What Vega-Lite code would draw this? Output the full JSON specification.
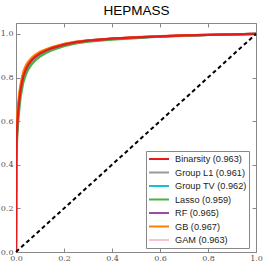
{
  "$schema": "https://vega.github.io/schema/vega-lite/v6.json",
  "width": 240,
  "height": 229,
  "autosize": {"type": "none"},
  "padding": {"left": 16, "top": 23, "right": 10, "bottom": 15},
  "background": "white",
  "config": {
    "view": {"stroke": "#888", "strokeWidth": 1},
    "axis": {"grid": false, "domain": false, "labelFont": "DejaVu Serif", "labelFontSize": 8, "labelColor": "#555", "tickColor": "#888", "tickSize": -4, "labelFlush": false, "labelOverlap": false, "labelBound": false, "minExtent": 0}
  },
  "datasets": {
    "roc": [
      {"fpr": 0, "Binarsity": 0, "Group L1": 0, "Group TV": 0, "Lasso": 0, "RF": 0, "GB": 0, "GAM": 0},
      {"fpr": 0.001, "Binarsity": 0.42, "Group L1": 0.40, "Group TV": 0.41, "Lasso": 0.36, "RF": 0.46, "GB": 0.48, "GAM": 0.42},
      {"fpr": 0.003, "Binarsity": 0.52, "Group L1": 0.50, "Group TV": 0.51, "Lasso": 0.47, "RF": 0.55, "GB": 0.58, "GAM": 0.52},
      {"fpr": 0.006, "Binarsity": 0.60, "Group L1": 0.58, "Group TV": 0.59, "Lasso": 0.55, "RF": 0.62, "GB": 0.65, "GAM": 0.60},
      {"fpr": 0.01, "Binarsity": 0.655, "Group L1": 0.64, "Group TV": 0.648, "Lasso": 0.61, "RF": 0.67, "GB": 0.69, "GAM": 0.655},
      {"fpr": 0.015, "Binarsity": 0.71, "Group L1": 0.695, "Group TV": 0.703, "Lasso": 0.67, "RF": 0.725, "GB": 0.74, "GAM": 0.71},
      {"fpr": 0.02, "Binarsity": 0.75, "Group L1": 0.737, "Group TV": 0.744, "Lasso": 0.715, "RF": 0.763, "GB": 0.775, "GAM": 0.75},
      {"fpr": 0.03, "Binarsity": 0.805, "Group L1": 0.795, "Group TV": 0.80, "Lasso": 0.775, "RF": 0.815, "GB": 0.825, "GAM": 0.805},
      {"fpr": 0.04, "Binarsity": 0.835, "Group L1": 0.826, "Group TV": 0.831, "Lasso": 0.81, "RF": 0.845, "GB": 0.853, "GAM": 0.835},
      {"fpr": 0.05, "Binarsity": 0.857, "Group L1": 0.849, "Group TV": 0.853, "Lasso": 0.835, "RF": 0.865, "GB": 0.872, "GAM": 0.857},
      {"fpr": 0.065, "Binarsity": 0.879, "Group L1": 0.872, "Group TV": 0.876, "Lasso": 0.86, "RF": 0.885, "GB": 0.891, "GAM": 0.879},
      {"fpr": 0.08, "Binarsity": 0.895, "Group L1": 0.889, "Group TV": 0.892, "Lasso": 0.878, "RF": 0.90, "GB": 0.905, "GAM": 0.895},
      {"fpr": 0.1, "Binarsity": 0.91, "Group L1": 0.905, "Group TV": 0.908, "Lasso": 0.896, "RF": 0.914, "GB": 0.918, "GAM": 0.91},
      {"fpr": 0.125, "Binarsity": 0.924, "Group L1": 0.92, "Group TV": 0.922, "Lasso": 0.912, "RF": 0.927, "GB": 0.93, "GAM": 0.924},
      {"fpr": 0.15, "Binarsity": 0.935, "Group L1": 0.931, "Group TV": 0.933, "Lasso": 0.925, "RF": 0.937, "GB": 0.94, "GAM": 0.935},
      {"fpr": 0.2, "Binarsity": 0.951, "Group L1": 0.948, "Group TV": 0.95, "Lasso": 0.944, "RF": 0.953, "GB": 0.955, "GAM": 0.951},
      {"fpr": 0.25, "Binarsity": 0.962, "Group L1": 0.96, "Group TV": 0.961, "Lasso": 0.956, "RF": 0.963, "GB": 0.965, "GAM": 0.962},
      {"fpr": 0.3, "Binarsity": 0.969, "Group L1": 0.967, "Group TV": 0.968, "Lasso": 0.964, "RF": 0.97, "GB": 0.971, "GAM": 0.969},
      {"fpr": 0.4, "Binarsity": 0.978, "Group L1": 0.977, "Group TV": 0.977, "Lasso": 0.974, "RF": 0.978, "GB": 0.979, "GAM": 0.978},
      {"fpr": 0.5, "Binarsity": 0.984, "Group L1": 0.983, "Group TV": 0.983, "Lasso": 0.981, "RF": 0.984, "GB": 0.985, "GAM": 0.984},
      {"fpr": 0.6, "Binarsity": 0.989, "Group L1": 0.988, "Group TV": 0.988, "Lasso": 0.987, "RF": 0.989, "GB": 0.99, "GAM": 0.989},
      {"fpr": 0.7, "Binarsity": 0.993, "Group L1": 0.992, "Group TV": 0.992, "Lasso": 0.991, "RF": 0.993, "GB": 0.993, "GAM": 0.993},
      {"fpr": 0.8, "Binarsity": 0.996, "Group L1": 0.995, "Group TV": 0.995, "Lasso": 0.995, "RF": 0.996, "GB": 0.996, "GAM": 0.996},
      {"fpr": 0.9, "Binarsity": 0.998, "Group L1": 0.998, "Group TV": 0.998, "Lasso": 0.998, "RF": 0.998, "GB": 0.998, "GAM": 0.998},
      {"fpr": 1.0, "Binarsity": 1.0, "Group L1": 1.0, "Group TV": 1.0, "Lasso": 1.0, "RF": 1.0, "GB": 1.0, "GAM": 1.0}
    ],
    "diag": [{"fpr": 0, "tpr": 0}, {"fpr": 1, "tpr": 1}],
    "names": [
      {"model": "Binarsity", "label": "Binarsity (0.963)"},
      {"model": "Group L1", "label": "Group L1 (0.961)"},
      {"model": "Group TV", "label": "Group TV (0.962)"},
      {"model": "Lasso", "label": "Lasso (0.959)"},
      {"model": "RF", "label": "RF (0.965)"},
      {"model": "GB", "label": "GB (0.967)"},
      {"model": "GAM", "label": "GAM (0.963)"}
    ]
  },
  "layer": [
    {
      "data": {"name": "roc"},
      "transform": [
        {"fold": ["GAM", "Group L1", "Group TV", "Lasso", "RF", "GB"], "as": ["model", "tpr"]},
        {"lookup": "model", "from": {"data": {"name": "names"}, "key": "model", "fields": ["label"]}}
      ],
      "mark": {"type": "line", "strokeWidth": 2.2, "clip": true},
      "encoding": {
        "x": {"field": "fpr", "type": "quantitative", "scale": {"domain": [0, 1], "nice": false}, "axis": {"title": null, "values": [0, 0.2, 0.4, 0.6, 0.8, 1.0], "format": ".1f", "labelPadding": 6}},
        "y": {"field": "tpr", "type": "quantitative", "scale": {"domain": [0, 1.05], "nice": false}, "axis": {"title": null, "values": [0, 0.2, 0.4, 0.6, 0.8, 1.0], "format": ".1f", "labelPadding": 7}},
        "color": {
          "field": "label", "type": "nominal",
          "scale": {
            "domain": ["Binarsity (0.963)", "Group L1 (0.961)", "Group TV (0.962)", "Lasso (0.959)", "RF (0.965)", "GB (0.967)", "GAM (0.963)"],
            "range": ["#e41a1c", "#999999", "#17becf", "#4daf4a", "#984ea3", "#ff7f00", "#ffc0cb"]
          },
          "legend": {
            "orient": "none", "legendX": 130, "legendY": 128, "title": null,
            "symbolType": "M-2,0H2", "symbolSize": 100, "symbolStrokeWidth": 2, "symbolOffset": 5,
            "labelFont": "Liberation Sans", "labelFontSize": 9.2, "labelColor": "#222", "labelLimit": 200, "labelOffset": 10,
            "rowPadding": 1.5, "padding": 2,
            "strokeColor": "#888", "fillColor": "white", "cornerRadius": 0
          }
        },
        "detail": {"field": "model", "type": "nominal"}
      }
    },
    {
      "data": {"name": "roc"},
      "transform": [
        {"fold": ["Binarsity"], "as": ["model", "tpr"]},
        {"lookup": "model", "from": {"data": {"name": "names"}, "key": "model", "fields": ["label"]}}
      ],
      "mark": {"type": "line", "strokeWidth": 2.2, "clip": true},
      "encoding": {
        "x": {"field": "fpr", "type": "quantitative", "axis": null},
        "y": {"field": "tpr", "type": "quantitative", "axis": null},
        "color": {"field": "label", "type": "nominal"}
      }
    },
    {
      "data": {"name": "diag"},
      "mark": {"type": "line", "color": "black", "strokeWidth": 2, "strokeDash": [4, 3]},
      "encoding": {
        "x": {"field": "fpr", "type": "quantitative", "axis": null},
        "y": {"field": "tpr", "type": "quantitative", "axis": null}
      }
    },
    {
      "data": {"name": "diag"},
      "mark": {"type": "point", "opacity": 0},
      "encoding": {
        "x": {"field": "fpr", "type": "quantitative", "axis": {"title": "HEPMASS", "titleFont": "Liberation Sans", "titleFontSize": 13.5, "titleFontWeight": "normal", "titleColor": "#000", "titleAnchor": "middle", "titleAlign": "center", "titleBaseline": "alphabetic", "titleX": 120, "titleY": -12.7, "orient": "top", "values": [0, 0.2, 0.4, 0.6, 0.8, 1.0], "labels": false, "tickSize": 4, "offset": -4, "minExtent": 0, "maxExtent": 0}},
        "y": {"field": "tpr", "type": "quantitative", "axis": {"title": null, "orient": "right", "values": [0, 0.2, 0.4, 0.6, 0.8, 1.0], "labels": false, "tickSize": 4, "offset": -4, "minExtent": 0, "maxExtent": 0}}
      }
    }
  ],
  "resolve": {"axis": {"x": "independent", "y": "independent"}}
}
